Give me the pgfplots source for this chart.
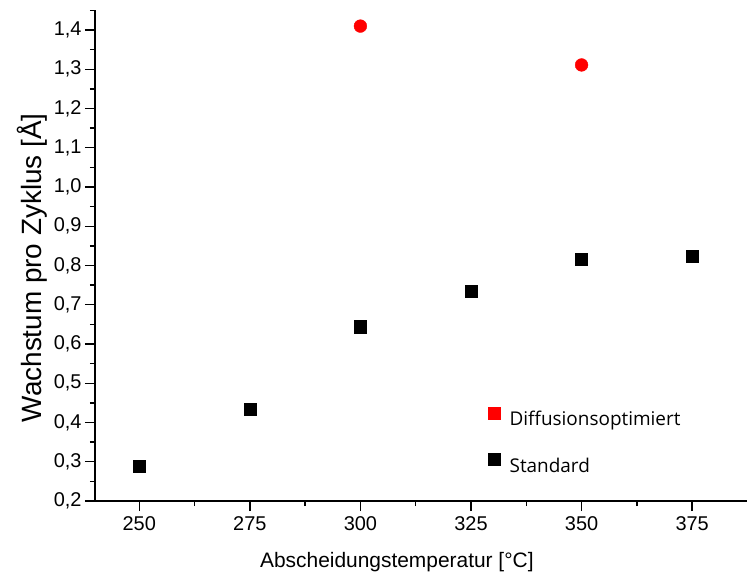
\documentclass[border=0pt]{standalone}
\usepackage{fontspec}
\setmainfont{Liberation Sans}
\newfontfamily\legfont{Open Sans}
\usepackage{pgfplots}
\pgfplotsset{compat=1.18}
\begin{document}
\begin{tikzpicture}
\begin{axis}[
  at={(0,0)}, anchor=south west,
  scale only axis,
  width=652bp, height=491bp,
  xmin=240, xmax=387.4,
  ymin=0.2, ymax=1.451,
  axis x line*=bottom, axis y line*=left,
  axis line style={line width=1.6bp, black},
  xtick={250,275,...,375},
  minor xtick={262.5,287.5,...,387.5},
  ytick={0.2,0.3,...,1.41},
  minor ytick={0.25,0.35,...,1.45},
  tick align=outside,
  major tick length=10bp, minor tick length=5bp,
  every tick/.style={line width=1.4bp, black},
  tick label style={font=\fontsize{20}{22}\selectfont},
  /pgf/number format/assume math mode=true,
  yticklabel style={/pgf/number format/.cd, use comma, fixed, fixed zerofill, precision=1},
  xticklabel style={yshift=-2bp, /pgf/number format/.cd, fixed, precision=0},
  xlabel={Abscheidungstemperatur [°C]},
  ylabel={Wachstum pro Zyklus [Å]},
  xlabel style={font=\fontsize{21}{23}\selectfont, at={(axis description cs:0.463,-0.1245)}, anchor=center},
  ylabel style={font=\fontsize{28}{30}\selectfont, at={(axis description cs:-0.097,0.475)}, anchor=center},
  legend style={at={(axis description cs:0.6028,0.1925)}, anchor=north west, draw=none, fill=none,
    inner sep=0pt, font=\legfont\fontsize{19}{21}\selectfont, row sep=26bp,
    nodes={inner sep=0pt},
    /tikz/every odd column/.append style={column sep=9bp}},
  legend cell align=left,
  clip=false,
]
\addplot[only marks, mark=*, mark size=6.4bp, color=red, mark options={fill=red, draw=none},
  legend image code/.code={\fill[red] (0bp,0.5bp) rectangle (12bp,12.5bp);}]
  coordinates {(300,1.410) (350,1.311)};
\addlegendentry{Diffusionsoptimiert}
\addplot[only marks, mark=square*, mark size=6.1bp, color=black, mark options={fill=black, draw=none},
  legend image code/.code={\fill[black] (0bp,0.5bp) rectangle (12bp,12.5bp);}]
  coordinates {(250,0.289) (275,0.434) (300,0.644) (325,0.735) (350,0.816) (375,0.823)};
\addlegendentry{Standard}
\end{axis}
\pgfresetboundingbox
\useasboundingbox (-95bp,-78bp) rectangle (652bp,501bp);
\end{tikzpicture}
\end{document}
